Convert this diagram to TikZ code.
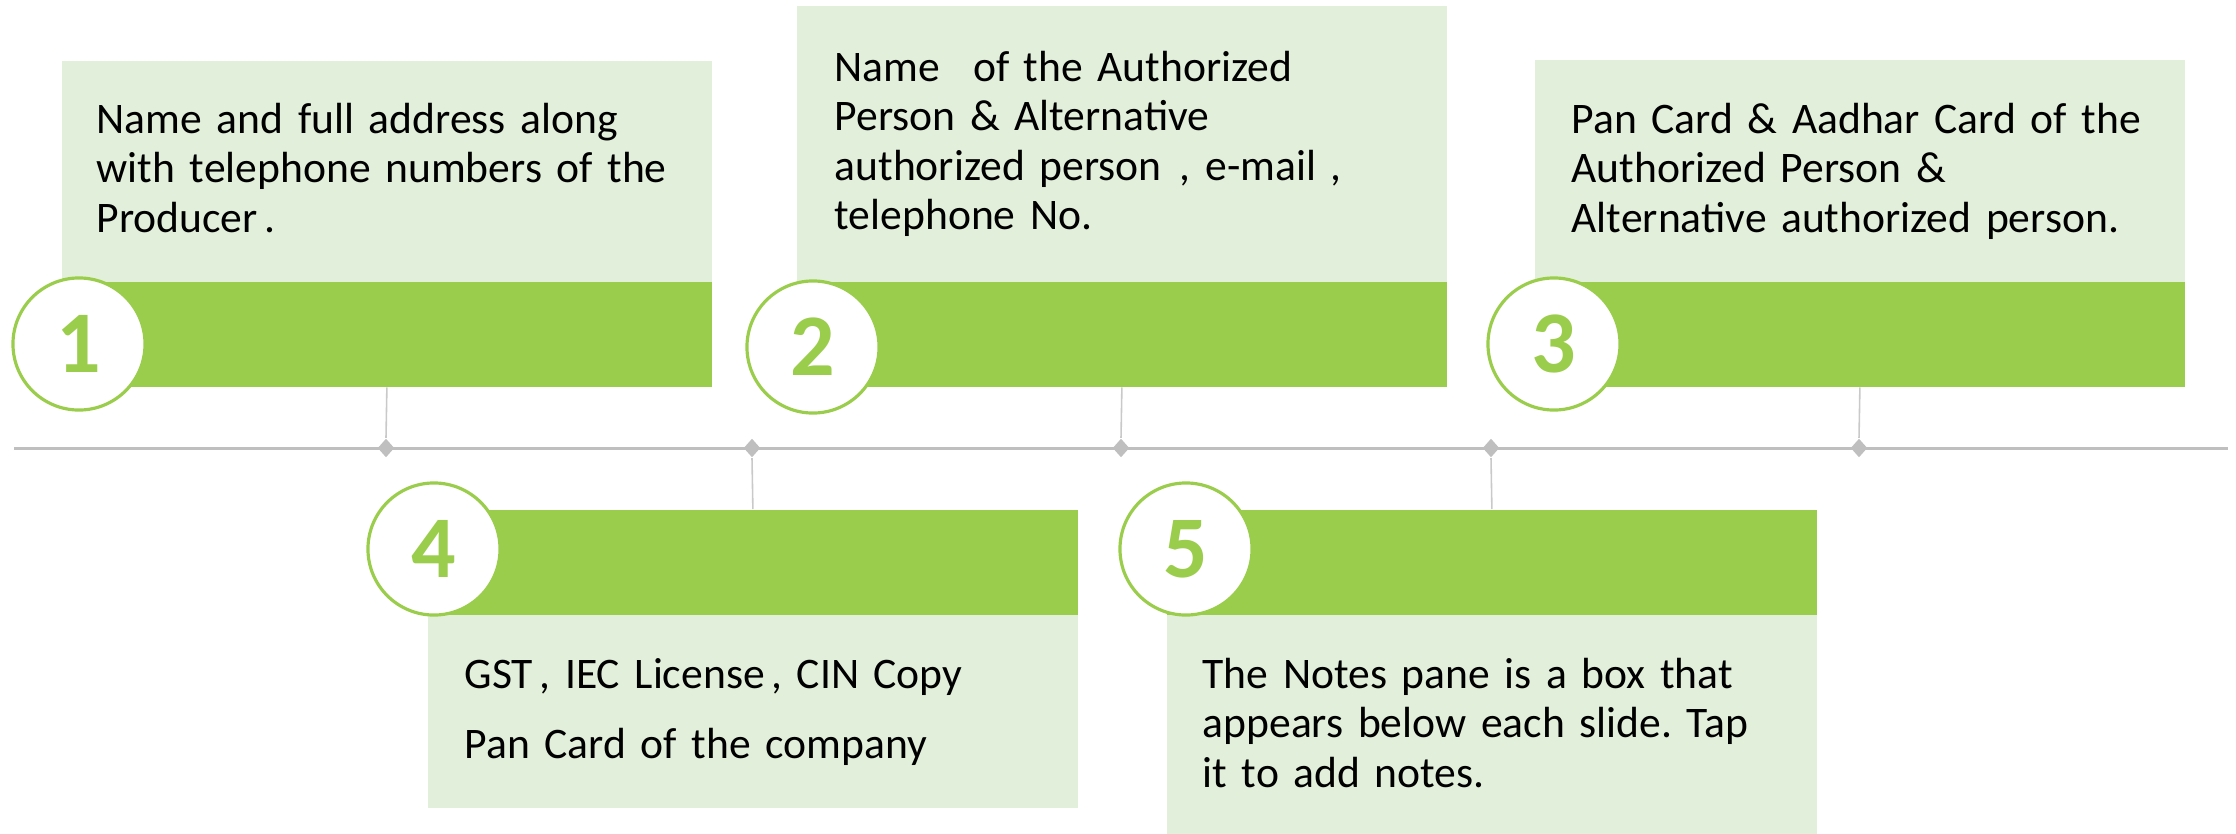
\documentclass[tikz,border=0pt]{standalone}
\usepackage{fontspec}
\setmainfont{Carlito}
\usetikzlibrary{shapes.geometric}

\definecolor{leafgreen}{HTML}{9BCD4C}
\definecolor{palegreen}{HTML}{E2EFDA}
\definecolor{railgray}{HTML}{BFBFBF}
\definecolor{stemgray}{HTML}{C9C9C9}

\newcommand{\notefont}{\fontsize{12.4}{14.1}\selectfont\frenchspacing\spaceskip=0.19em plus 0.1em minus 0.05em\relax}

\tikzstyle{notebox} = [rectangle, fill=palegreen, minimum width=6.5cm, anchor=north west, inner sep=0pt]
\tikzstyle{bar} = [rectangle, fill=leafgreen, minimum width=6.5cm, minimum height=1.05cm, anchor=north west, inner sep=0pt]
\tikzstyle{badge} = [circle, draw=leafgreen, line width=0.9pt, fill=white, minimum size=1.32cm, inner sep=0pt, text=leafgreen, font=\fontsize{25}{25}\selectfont\bfseries]
\tikzstyle{notetext} = [anchor=base west, inner sep=0pt, text width=6.4cm, align=left, font=\notefont]
\tikzstyle{tick} = [diamond, fill=railgray, minimum width=0.17cm, minimum height=0.19cm, inner sep=0pt]
\tikzstyle{stem} = [draw=stemgray, line width=0.45pt]

\begin{document}
\begin{tikzpicture}[x=0.01cm, y=-0.01cm]
        \useasboundingbox (0,0) rectangle (2236,833);

        % timeline
        \coordinate (railL) at (14,448);
        \coordinate (railR) at (2228,448);
        \draw [draw=railgray, line width=0.85pt] (railL) -- (railR);

        % upper row
        \node (box1) [notebox, minimum height=2.21cm] at (61,60) {};
        \node (bar1) [bar] at (61,281) {};
        \node (box2) [notebox, minimum height=2.76cm] at (796,5) {};
        \node (bar2) [bar] at (796,281) {};
        \node (box3) [notebox, minimum height=2.22cm] at (1534,59) {};
        \node (bar3) [bar] at (1534,281) {};

        % lower row
        \node (bar4) [bar] at (427,509) {};
        \node (box4) [notebox, minimum height=1.93cm] at (427,614) {};
        \node (bar5) [bar] at (1166,509) {};
        \node (box5) [notebox, minimum height=2.19cm] at (1166,614) {};

        % ticks on the timeline, under the middle of each bar
        \node (d1) [tick] at (386,448) {};
        \node (d4) [tick] at (752,448) {};
        \node (d2) [tick] at (1121,448) {};
        \node (d5) [tick] at (1491,448) {};
        \node (d3) [tick] at (1859,448) {};

        \draw [stem] (bar1.south) -- (d1.north);
        \draw [stem] (bar2.south) -- (d2.north);
        \draw [stem] (bar3.south) -- (d3.north);
        \draw [stem] (d4.south) -- (bar4.north);
        \draw [stem] (d5.south) -- (bar5.north);

        % numbers
        \node (c1) [badge] at (79,344) {1};
        \node (c2) [badge] at (813,347) {2};
        \node (c3) [badge] at (1554,344) {3};
        \node (c4) [badge] at (434,549) {4};
        \node (c5) [badge] at (1186,549) {5};

        % texts
        \node (t1) [notetext] at (96,133) {Name and full address along\\with telephone numbers of the\\Producer\hspace{0.15em}.};
        \node (t2) [notetext] at (834,81) {Name\hspace{0.75em}of the Authorized\\Person \& Alternative\\authorized person\hspace{0.42em}, e-mail ,\\telephone No.};
        \node (t3) [notetext] at (1571,133) {Pan Card \& Aadhar Card of the\\Authorized Person \&\\Alternative authorized person.};
        \node (t4) [notetext] at (464,688) {GST\hspace{0.15em}, IEC License\hspace{0.15em}, CIN Copy\\[0.205cm]Pan Card of the company};
        \node (t5) [notetext] at (1202,688) {The Notes pane is a box that\\appears below each slide. Tap\\it to add notes.};

\end{tikzpicture}
\end{document}
